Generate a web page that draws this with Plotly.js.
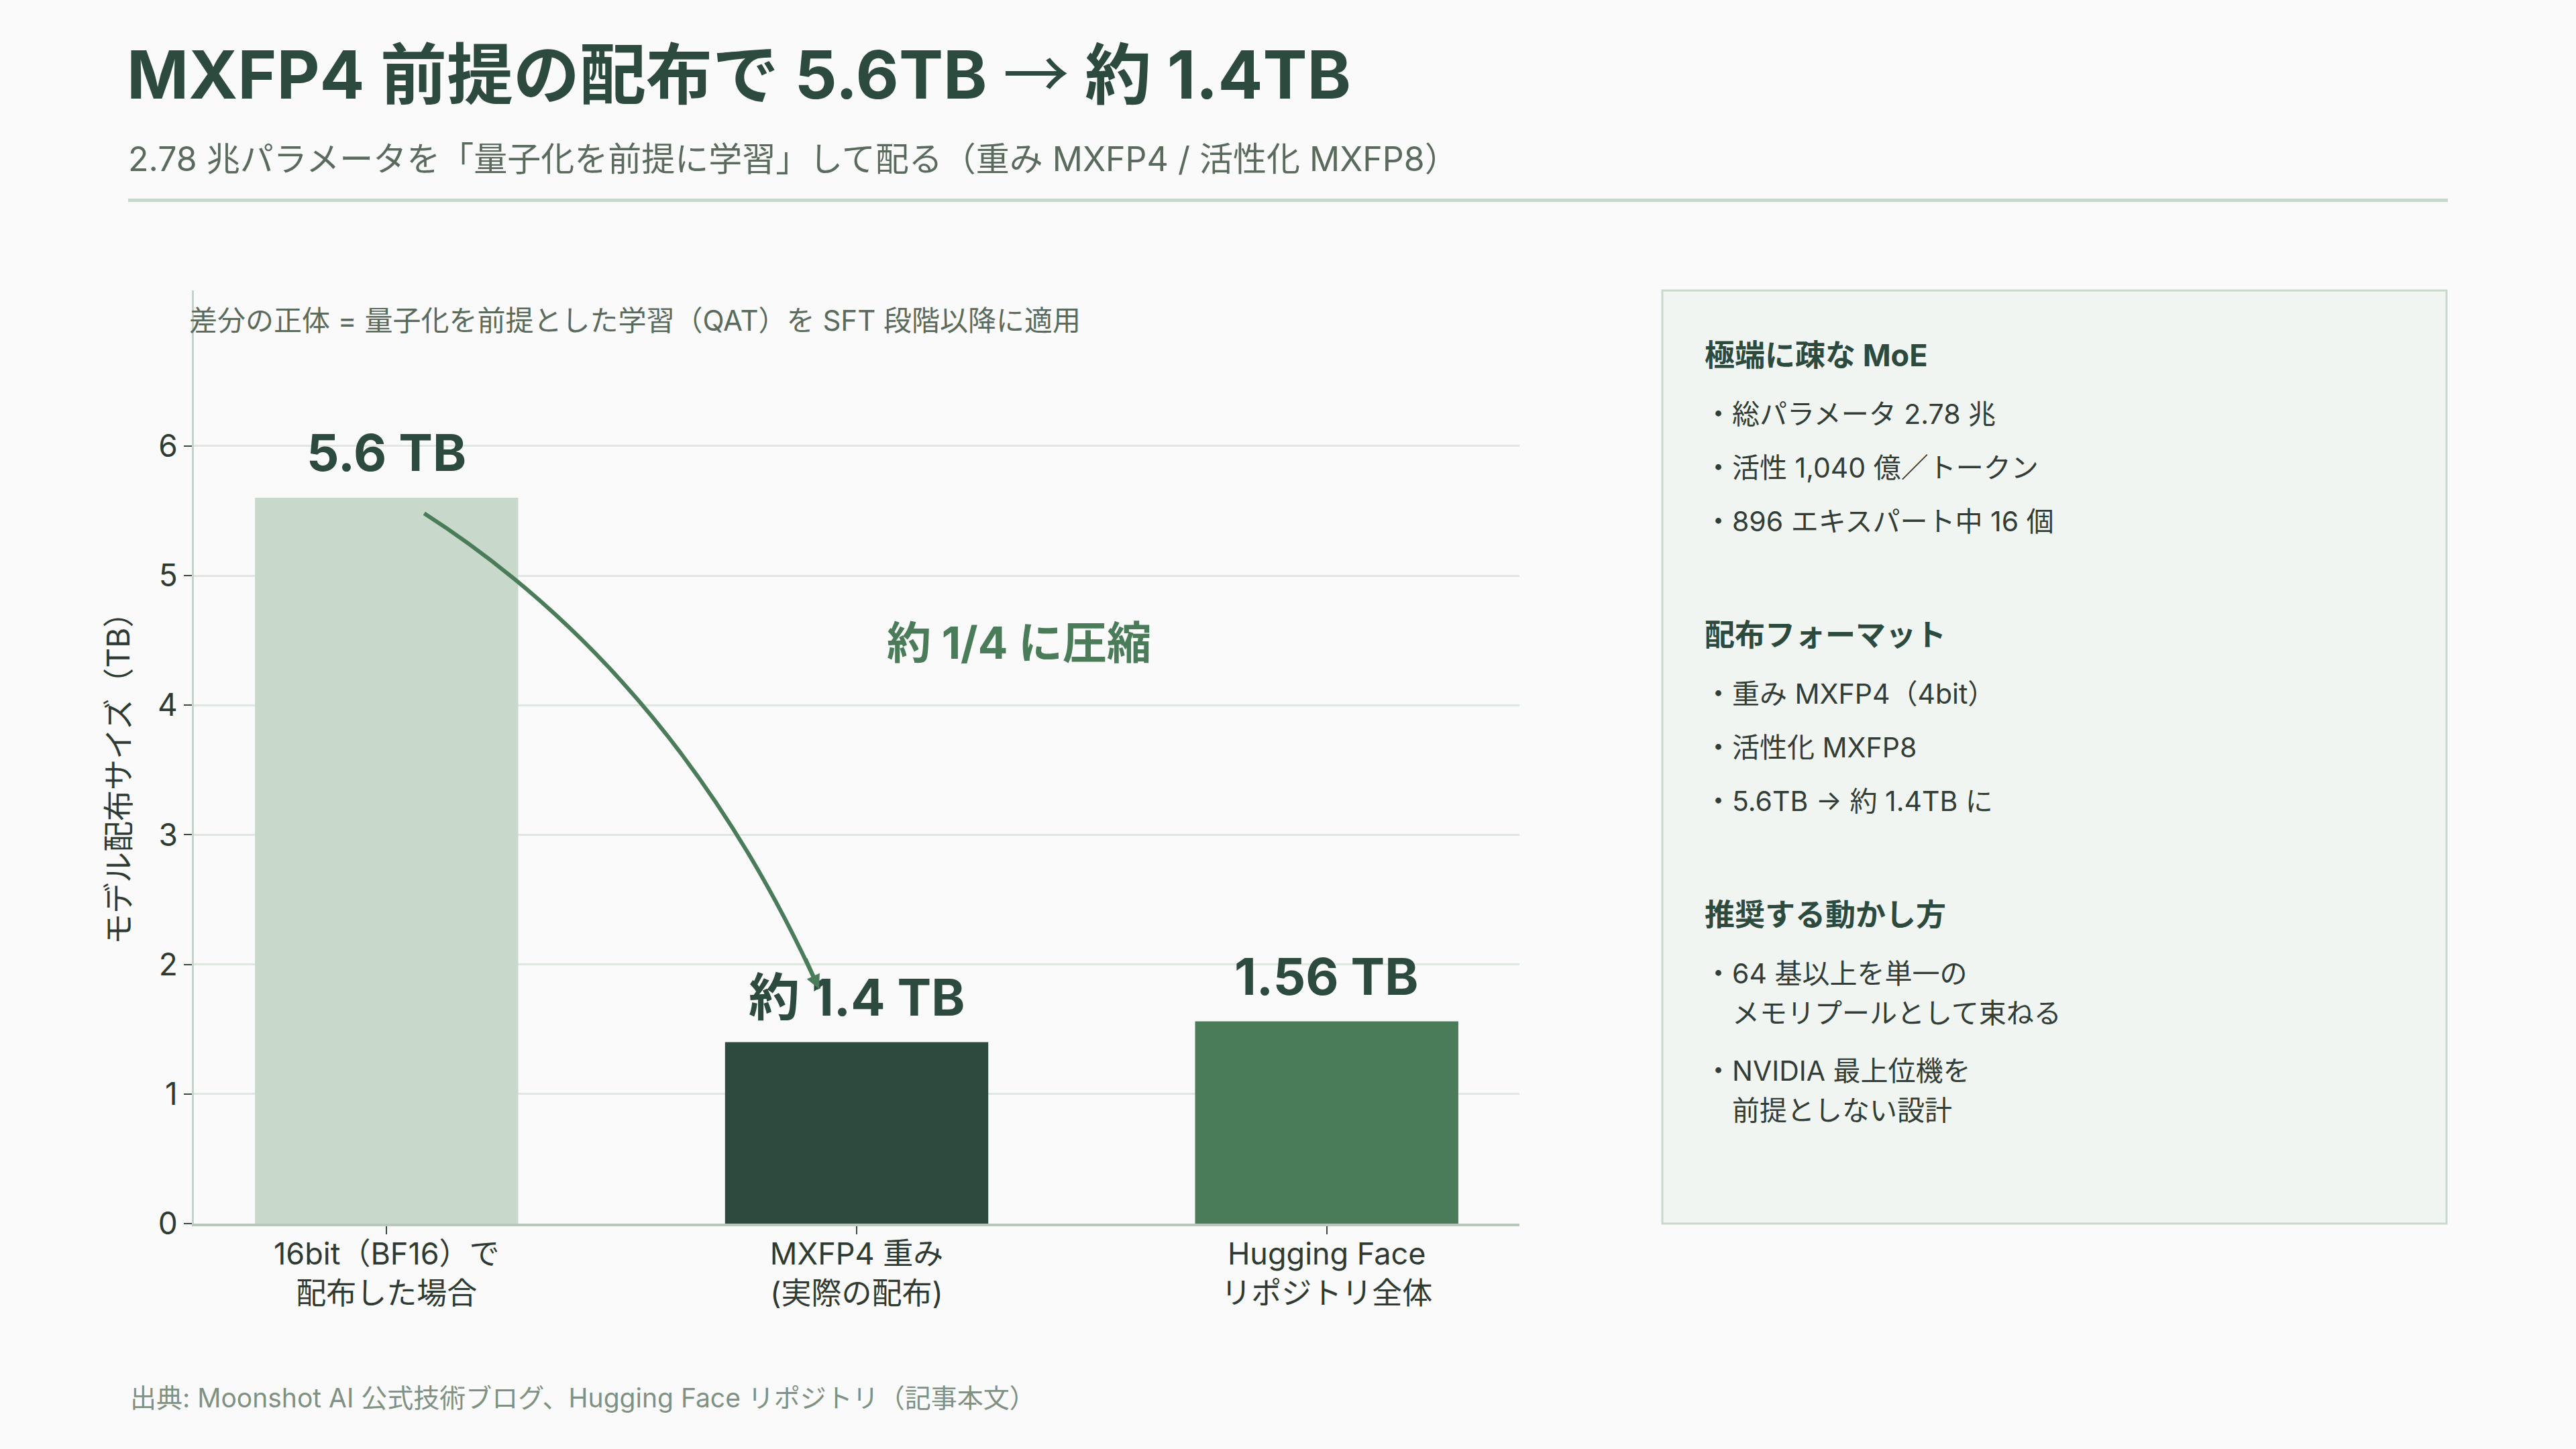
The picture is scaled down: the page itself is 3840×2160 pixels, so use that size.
<!DOCTYPE html>
<html lang="ja">
<head>
<meta charset="utf-8">
<title>MXFP4 前提の配布で 5.6TB → 約 1.4TB</title>
<script src="https://cdn.plot.ly/plotly-3.0.1.min.js"></script>
<style>
  html, body { margin: 0; padding: 0; background: #fafafa; }
  #chart { width: 3840px; height: 2160px; }
</style>
</head>
<body>
<div id="chart"></div>
<script>
// ---- chart data ----
const categories = ['16bit（BF16）で<br>配布した場合', 'MXFP4 重み<br>(実際の配布)', 'Hugging Face<br>リポジトリ全体'];
const sizesTB = [5.6, 1.4, 1.56];
const labelPrefix = ['', '約 ', ''];
const barColors = ['#c8d9cb', '#2d4a3e', '#4a7c59'];
const yTicks = [0, 1, 2, 3, 4, 5, 6];

// ---- text ----
const titleParts = ['MXFP4 前提の配布で 5.6TB', '→', '約 1.4TB'];
const subtitleText = '2.78 兆パラメータを「量子化を前提に学習」して配る（重み MXFP4 / 活性化 MXFP8）';
const noteText = '差分の正体 = 量子化を前提とした学習（QAT）を SFT 段階以降に適用';
const compressText = '約 1/4 に圧縮';
const yTitleText = 'モデル配布サイズ（TB）';
const sourceText = '出典: Moonshot AI 公式技術ブログ、Hugging Face リポジトリ（記事本文）';

// ---- side panel ----
const panelHeadings = ['極端に疎な MoE', '配布フォーマット', '推奨する動かし方'];
const panelItems = [
  [['総パラメータ 2.78 兆'], ['活性 1,040 億／トークン'], ['896 エキスパート中 16 個']],
  [['重み MXFP4（4bit）'], ['活性化 MXFP8'], ['5.6TB → 約 1.4TB に']],
  [['64 基以上を単一の', 'メモリプールとして束ねる'], ['NVIDIA 最上位機を', '前提としない設計']]
];

// ---- page geometry (px) ----
const W = 3840, H = 2160;
const plotL = 289, plotR = 2265, plotT = 433, plotB = 1824;
const pw = plotR - plotL, ph = plotB - plotT;
const px2x = p => (p - plotL) / pw;
const px2y = p => 1 - (p - plotT) / ph;

// Latin glyphs from Inter, kana/kanji fall back to Noto Sans CJK JP
const FONT = 'Inter, "Noto Sans CJK JP", "Noto Sans", sans-serif';
const CJK = '"Noto Sans CJK JP", sans-serif';
const DARK = '#2d4a3e';
const MID = '#4a7c59';
const MUTED = '#5a6b5d';
const INK = '#2f3a33';

const annotations = [];
const shapes = [];

// value labels above each bar
categories.forEach((c, i) => {
  annotations.push({
    x: c, y: sizesTB[i], xref: 'x', yref: 'y',
    text: '<b>' + labelPrefix[i] + sizesTB[i] + ' TB</b>',
    showarrow: false, yanchor: 'bottom', yshift: 20,
    font: { family: FONT, size: 76, color: DARK }
  });
});

// curved connector from the BF16 bar down to the MXFP4 label
const arrowFrom = { x: 0.08, y: sizesTB[0] - 0.12 };
const arrowTo = { x: 0.92, y: sizesTB[1] + 0.41 };
const arrowCtrl = { x: 0.62, y: 4.22 };
shapes.push({
  type: 'path', xref: 'x', yref: 'y', layer: 'above',
  path: `M ${arrowFrom.x},${arrowFrom.y} Q ${arrowCtrl.x},${arrowCtrl.y} ${arrowTo.x},${arrowTo.y}`,
  line: { color: MID, width: 6 }
});
annotations.push({
  x: arrowTo.x, y: arrowTo.y, xref: 'x', yref: 'y',
  ax: arrowTo.x - 0.1 * (arrowTo.x - arrowCtrl.x),
  ay: arrowTo.y - 0.1 * (arrowTo.y - arrowCtrl.y),
  axref: 'x', ayref: 'y', text: '', showarrow: true,
  arrowhead: 2, arrowsize: 0.7, arrowwidth: 6, arrowcolor: MID, standoff: 0
});
annotations.push({
  x: 1.346, y: 4.48, xref: 'x', yref: 'y',
  text: '<b>' + compressText + '</b>', showarrow: false,
  font: { family: FONT, size: 66, color: MID }
});

// note at top of plot
annotations.push({
  x: px2x(280), y: px2y(477), xref: 'paper', yref: 'paper',
  xanchor: 'left', yanchor: 'middle', text: noteText, showarrow: false,
  font: { family: FONT, size: 42, color: MUTED }
});

// y axis title
annotations.push({
  x: px2x(176), y: px2y(1149), xref: 'paper', yref: 'paper',
  xanchor: 'center', yanchor: 'middle', textangle: -90,
  text: yTitleText, showarrow: false,
  font: { family: FONT, size: 46, color: INK }
});

// subtitle, source
annotations.push({
  x: px2x(189), y: px2y(237), xref: 'paper', yref: 'paper',
  xanchor: 'left', yanchor: 'middle', text: subtitleText, showarrow: false,
  font: { family: FONT, size: 50, color: MUTED }
});
annotations.push({
  x: px2x(192), y: px2y(2083), xref: 'paper', yref: 'paper',
  xanchor: 'left', yanchor: 'middle', text: sourceText, showarrow: false,
  font: { family: FONT, size: 39, color: '#7f9183' }
});

// header rule
shapes.push({
  type: 'line', xref: 'paper', yref: 'paper',
  x0: px2x(191), x1: px2x(3649), y0: px2y(298.5), y1: px2y(298.5),
  line: { color: '#c8d9cb', width: 5 }
});

// side panel box
shapes.push({
  type: 'rect', xref: 'paper', yref: 'paper', layer: 'below',
  x0: px2x(2478), x1: px2x(3647), y0: px2y(433), y1: px2y(1824),
  fillcolor: '#f0f5f1', line: { color: '#c8d9cb', width: 3 }
});

// side panel text
const panelX = 2539;
let yPos = 529;
panelHeadings.forEach((head, s) => {
  annotations.push({
    x: px2x(panelX), y: px2y(yPos), xref: 'paper', yref: 'paper',
    xanchor: 'left', yanchor: 'middle', text: '<b>' + head + '</b>', showarrow: false,
    font: { family: FONT, size: 45, color: DARK }
  });
  yPos += 88;
  let lastLine = yPos;
  panelItems[s].forEach(lines => {
    lines.forEach((ln, j) => {
      annotations.push({
        x: px2x(panelX), y: px2y(yPos), xref: 'paper', yref: 'paper',
        xanchor: 'left', yanchor: 'middle',
        text: (j === 0 ? '・' : '　') + ln, showarrow: false,
        font: { family: FONT, size: 41, color: '#333d37' }
      });
      lastLine = yPos;
      if (j < lines.length - 1) yPos += 59;
    });
    yPos += lines.length > 1 ? 86 : 80;
  });
  yPos = lastLine + 169;
});

const trace = {
  type: 'bar',
  x: categories,
  y: sizesTB,
  width: 0.56,
  marker: { color: barColors, line: { width: 0 } },
  hoverinfo: 'skip'
};

const titleHtml = '<b>' + titleParts[0] + ' <span style="font-family:' + CJK.replace(/"/g, "'") +
  ';font-weight:400">' + titleParts[1] + '</span> ' + titleParts[2] + '</b>';

const layout = {
  width: W, height: H,
  paper_bgcolor: '#fafafa', plot_bgcolor: '#fafafa',
  margin: { l: plotL, r: W - plotR, t: plotT, b: H - plotB, pad: 0 },
  showlegend: false,
  title: {
    text: titleHtml,
    xref: 'container', yref: 'container',
    x: 189 / W, xanchor: 'left', y: 1 - 112 / H, yanchor: 'middle',
    font: { family: FONT, size: 99, color: DARK }
  },
  xaxis: {
    type: 'category', range: [-0.41, 2.41],
    showline: true, linecolor: '#b9c8bc', linewidth: 4,
    ticks: 'outside', ticklen: 12, tickwidth: 2, tickcolor: '#3a4a40',
    ticklabelstandoff: -9,
    showgrid: false, zeroline: false,
    tickfont: { family: FONT, size: 45, color: INK }
  },
  yaxis: {
    range: [0, 7.2], tickmode: 'array', tickvals: yTicks,
    showline: true, linecolor: '#c5d3c8', linewidth: 3,
    ticks: 'outside', ticklen: 12, tickwidth: 2, tickcolor: '#3a4a40',
    showgrid: true, gridcolor: '#dfe7e1', gridwidth: 3, zeroline: false,
    tickfont: { family: FONT, size: 46, color: INK }
  },
  annotations: annotations,
  shapes: shapes
};

Plotly.newPlot('chart', [trace], layout, { staticPlot: true, displayModeBar: false });
</script>
</body>
</html>
